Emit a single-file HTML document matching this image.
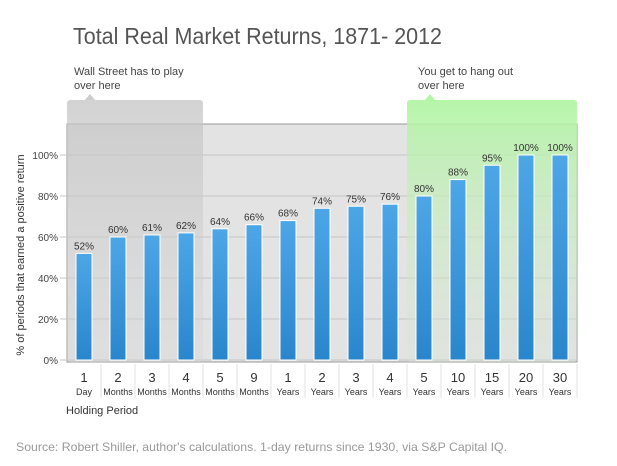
<!DOCTYPE html>
<html><head><meta charset="utf-8"><style>
body{margin:0;background:#fff;font-family:"Liberation Sans",sans-serif;}
svg text{font-family:"Liberation Sans",sans-serif;}
</style></head><body>
<svg width="617" height="461" xmlns="http://www.w3.org/2000/svg">
<defs>
<linearGradient id="bar" x1="0" y1="0" x2="0" y2="1"><stop offset="0" stop-color="#4da6e6"/><stop offset="1" stop-color="#2a86cc"/></linearGradient>
<linearGradient id="grn" x1="0" y1="0" x2="0" y2="1"><stop offset="0" stop-color="#b2f5a4" stop-opacity="0.95"/><stop offset="0.5" stop-color="#c8ecc0" stop-opacity="0.6"/><stop offset="1" stop-color="#d8e4d6" stop-opacity="0.3"/></linearGradient>
<linearGradient id="gry" x1="0" y1="0" x2="0" y2="1"><stop offset="0" stop-color="#c4c4c4" stop-opacity="0.75"/><stop offset="1" stop-color="#d6d6d6" stop-opacity="0.35"/></linearGradient>
</defs>
<text x="73" y="44" font-size="23" fill="#555" textLength="369" lengthAdjust="spacingAndGlyphs">Total Real Market Returns, 1871- 2012</text>
<rect x="67" y="124" width="510" height="238" fill="#e3e3e3" stroke="#999" stroke-width="1"/>
<g id="grid"></g>
<rect x="67" y="100" width="136" height="262" rx="3" fill="url(#gry)"/>
<path d="M85 100 L90 94 L95 100Z" fill="#cccccc"/>
<rect x="407" y="100" width="170" height="262" rx="3" fill="url(#grn)"/>
<path d="M425 100 L430 94 L435 100Z" fill="#b2f5a4"/>
<text x="74" y="75" font-size="11" fill="#444"><tspan x="74">Wall Street has to play</tspan><tspan x="74" dy="14">over here</tspan></text>
<text x="418" y="75" font-size="11" fill="#444"><tspan x="418">You get to hang out</tspan><tspan x="418" dy="14">over here</tspan></text>
<g id="bars"></g>
<g id="xlab"></g>
<text transform="translate(24,255) rotate(-90)" text-anchor="middle" font-size="11" fill="#333">% of periods that earned a positive return</text>
<text x="66" y="414" font-size="11" fill="#333">Holding Period</text>
<text x="16" y="451" font-size="12" fill="#999" textLength="491" lengthAdjust="spacingAndGlyphs">Source: Robert Shiller, author's calculations. 1-day returns since 1930, via S&amp;P Capital IQ.</text>
</svg>
<script>
const nums=["1","2","3","4","5","9","1","2","3","4","5","10","15","20","30"];
const units=["Day","Months","Months","Months","Months","Months","Years","Years","Years","Years","Years","Years","Years","Years","Years"];
const values=[52,60,61,62,64,66,68,74,75,76,80,88,95,100,100];
const yTicks=[0,20,40,60,80,100];
const NS="http://www.w3.org/2000/svg";
const x0=67,slot=34,y0=360,k=2.05;
const xs=i=>x0+slot*i+slot/2, ys=v=>y0-v*k;
function mk(t,a,p){const e=document.createElementNS(NS,t);for(const n in a)e.setAttribute(n,a[n]);p.appendChild(e);return e;}
const grid=document.getElementById('grid'),bars=document.getElementById('bars'),xl=document.getElementById('xlab');
yTicks.forEach(t=>{
 const l=mk('line',{x1:60,x2:577,y1:ys(t),y2:ys(t),stroke:'#c4c4c4'},grid);
 
 
 const tx=mk('text',{x:58,y:ys(t)+4,'text-anchor':'end','font-size':10,fill:'#444'},grid);
 tx.textContent=t+'%';
 
 
});
values.forEach((v,i)=>{
 const r=mk('rect',{x:xs(i)-8,y:ys(v),width:16,height:v*k,fill:'url(#bar)',stroke:'#fff','stroke-width':1},bars);
 
 
 const t=mk('text',{x:xs(i),y:ys(v)-4,'text-anchor':'middle','font-size':10,fill:'#333'},bars);
 t.textContent=v+'%';
 
 
 const a=mk('text',{x:xs(i),y:382,'text-anchor':'middle','font-size':13,fill:'#333'},xl);
 a.textContent=nums[i];
 
 
 const b=mk('text',{x:xs(i),y:395,'text-anchor':'middle','font-size':9,fill:'#333'},xl);
 b.textContent=units[i];
 
 
 const s=mk('line',{x1:x0+slot*(i+1),x2:x0+slot*(i+1),y1:364,y2:398,stroke:'#e2e2e2'},xl);
 
 
});
</script>
</body></html>
